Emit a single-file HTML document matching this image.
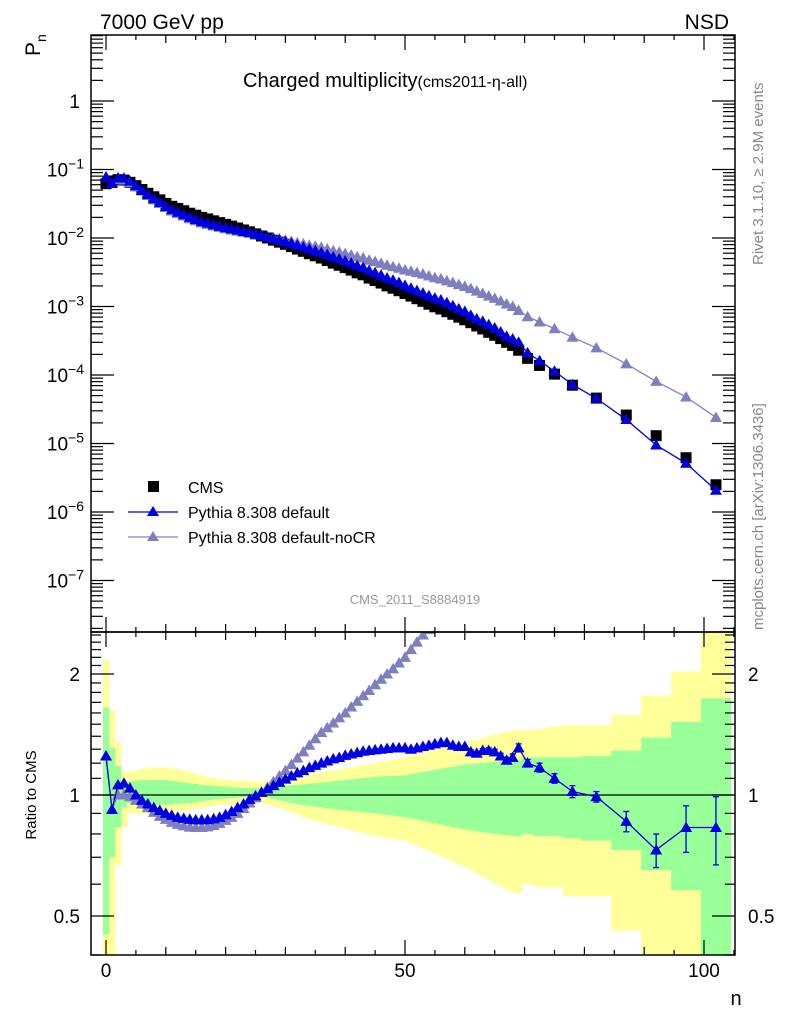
<!DOCTYPE html>
<html><head><meta charset="utf-8"><style>
body{margin:0;background:#fff}
svg text{font-family:"Liberation Sans",sans-serif}
</style></head><body>
<svg id="chart" width="786" height="1024" xmlns="http://www.w3.org/2000/svg">
<g id="bands"></g>
<g id="marks"></g>
<g id="axes"></g>
<text x="100" y="29" font-size="21">7000 GeV pp</text>
<text x="729" y="29" font-size="21" text-anchor="end">NSD</text>
<text transform="translate(40,56) rotate(-90)" font-size="21">P<tspan font-size="14" dy="6">n</tspan></text>
<text x="243" y="87" font-size="20">Charged multiplicity<tspan font-size="16">(cms2011-η-all)</tspan></text>
<text transform="translate(763,265) rotate(-90)" font-size="15" fill="#888">Rivet 3.1.10, ≥ 2.9M events</text>
<text transform="translate(763,630) rotate(-90)" font-size="15" fill="#888">mcplots.cern.ch [arXiv:1306.3436]</text>
<text x="415" y="604" font-size="13" fill="#999" text-anchor="middle">CMS_2011_S8884919</text>
<text transform="translate(36,795) rotate(-90)" font-size="15" text-anchor="middle">Ratio to CMS</text>
<text x="736" y="1005" font-size="20" text-anchor="middle">n</text>
<g>
<rect x="148" y="481" width="11" height="11" fill="#000"/>
<text x="188" y="493" font-size="16">CMS</text>
<line x1="128" y1="512" x2="178" y2="512" stroke="#0000e0" stroke-width="1.3"/>
<polygon points="153,506 159,516 147,516" fill="#0000e0"/>
<text x="188" y="518" font-size="16">Pythia 8.308 default</text>
<line x1="128" y1="537" x2="178" y2="537" stroke="#7f7fbf" stroke-width="1.3"/>
<polygon points="153,531 159,541 147,541" fill="#7f7fbf"/>
<text x="188" y="543" font-size="16">Pythia 8.308 default-noCR</text>
</g>
</svg>
<script>
const nVals=[0,1,2,3,4,5,6,7,8,9,10,11,12,13,14,15,16,17,18,19,20,21,22,23,24,25,26,27,28,29,30,31,32,33,34,35,36,37,38,39,40,41,42,43,44,45,46,47,48,49,50,51,52,53,54,55,56,57,58,59,60,61,62,63,64,65,66,67,68,69,70.5,72.5,75,78,82,87,92,97,102];
const binEdges=[-0.5,0.5,1.5,2.5,3.5,4.5,5.5,6.5,7.5,8.5,9.5,10.5,11.5,12.5,13.5,14.5,15.5,16.5,17.5,18.5,19.5,20.5,21.5,22.5,23.5,24.5,25.5,26.5,27.5,28.5,29.5,30.5,31.5,32.5,33.5,34.5,35.5,36.5,37.5,38.5,39.5,40.5,41.5,42.5,43.5,44.5,45.5,46.5,47.5,48.5,49.5,50.5,51.5,52.5,53.5,54.5,55.5,56.5,57.5,58.5,59.5,60.5,61.5,62.5,63.5,64.5,65.5,66.5,67.5,68.5,69.5,71.5,73.5,76.5,79.5,84.5,89.5,94.5,99.5,104.5];
const cmsP=[0.062,0.068,0.071,0.070,0.065,0.058,0.051,0.045,0.040,0.036,0.032,0.029,0.027,0.025,0.023,0.0215,0.020,0.019,0.0178,0.0168,0.0158,0.0149,0.0140,0.0131,0.0123,0.0115,0.0107,0.0100,0.0093,0.0087,0.0081,0.0075,0.0069,0.0064,0.0059,0.0055,0.0051,0.0047,0.0043,0.0040,0.0037,0.0034,0.0031,0.0029,0.0026,0.0024,0.0022,0.0020,0.00185,0.0017,0.00155,0.00142,0.00130,0.00119,0.00108,0.00099,0.00092,0.00084,0.00077,0.00070,0.00064,0.00058,0.00052,0.00047,0.00042,0.00038,0.00034,0.00030,0.00027,0.00023,0.000175,0.000138,0.000103,0.000071,0.000046,0.000026,0.000013,0.0000062,0.0000025];
const ratioDefault=[1.25,0.92,1.06,1.07,1.04,1.00,0.97,0.95,0.93,0.915,0.90,0.89,0.88,0.875,0.87,0.867,0.867,0.868,0.872,0.88,0.893,0.91,0.93,0.95,0.975,0.995,1.015,1.035,1.055,1.075,1.095,1.115,1.135,1.15,1.17,1.185,1.2,1.215,1.23,1.24,1.255,1.265,1.275,1.285,1.29,1.295,1.30,1.305,1.31,1.31,1.31,1.30,1.31,1.32,1.33,1.34,1.35,1.35,1.33,1.32,1.32,1.28,1.27,1.29,1.29,1.28,1.25,1.22,1.24,1.31,1.2,1.17,1.10,1.02,0.99,0.86,0.73,0.83,0.83];
const errDefault=[0,0,0,0,0,0,0,0,0,0,0,0,0,0,0,0,0,0,0,0,0,0,0,0,0,0,0,0,0,0,0,0,0,0,0,0,0,0,0,0,0,0,0,0,0,0,0,0,0,0,0,0,0,0,0,0,0,0,0,0,0,0.015,0.015,0.015,0.02,0.02,0.02,0.02,0.025,0.03,0.025,0.03,0.03,0.035,0.03,0.05,0.07,0.11,0.16];
const ratioNoCR=[1.25,0.92,1.0,1.0,0.99,0.97,0.95,0.93,0.905,0.885,0.87,0.855,0.845,0.838,0.832,0.83,0.83,0.833,0.84,0.85,0.865,0.88,0.9,0.925,0.955,0.985,1.015,1.045,1.08,1.115,1.15,1.19,1.235,1.28,1.33,1.38,1.43,1.47,1.51,1.555,1.6,1.655,1.71,1.765,1.82,1.88,1.94,2.0,2.06,2.13,2.2,2.3,2.4,2.5,2.58,2.66,2.74,2.82,2.9,2.98,3.06,3.14,3.22,3.3,3.38,3.46,3.54,3.62,3.71,3.8,4.05,4.3,4.6,5.0,5.4,5.6,6.2,7.7,9.6];
const greenUp=[1.65,1.31,1.18,1.08,1.08,1.085,1.09,1.09,1.09,1.09,1.09,1.085,1.08,1.075,1.07,1.065,1.06,1.057,1.054,1.051,1.05,1.045,1.043,1.041,1.04,1.04,1.04,1.042,1.045,1.05,1.053,1.057,1.06,1.063,1.067,1.07,1.074,1.078,1.082,1.086,1.09,1.094,1.098,1.102,1.106,1.11,1.112,1.114,1.116,1.118,1.12,1.127,1.134,1.141,1.148,1.155,1.162,1.169,1.176,1.183,1.19,1.194,1.198,1.202,1.206,1.21,1.213,1.216,1.22,1.22,1.24,1.24,1.24,1.24,1.25,1.29,1.39,1.52,1.74];
const greenDn=[0.45,0.70,0.83,0.93,0.955,0.953,0.951,0.949,0.947,0.945,0.945,0.947,0.95,0.952,0.955,0.96,0.965,0.97,0.974,0.977,0.98,0.984,0.986,0.988,0.99,0.99,0.99,0.985,0.978,0.97,0.963,0.956,0.95,0.945,0.94,0.935,0.931,0.927,0.923,0.919,0.915,0.912,0.909,0.906,0.903,0.90,0.896,0.892,0.888,0.884,0.88,0.874,0.868,0.862,0.856,0.85,0.844,0.838,0.832,0.826,0.82,0.816,0.812,0.808,0.804,0.80,0.797,0.794,0.79,0.79,0.80,0.79,0.79,0.78,0.77,0.73,0.65,0.58,0.3];
const yellowUp=[2.17,1.62,1.35,1.14,1.14,1.15,1.16,1.165,1.17,1.17,1.17,1.165,1.16,1.15,1.14,1.13,1.12,1.11,1.10,1.095,1.09,1.088,1.086,1.084,1.082,1.08,1.08,1.082,1.086,1.09,1.097,1.104,1.111,1.118,1.124,1.13,1.137,1.144,1.151,1.158,1.165,1.172,1.179,1.186,1.193,1.20,1.208,1.216,1.224,1.232,1.24,1.251,1.262,1.273,1.284,1.295,1.306,1.317,1.328,1.339,1.35,1.362,1.374,1.386,1.398,1.41,1.422,1.434,1.446,1.45,1.45,1.46,1.48,1.49,1.49,1.58,1.77,2.03,3];
const yellowDn=[0.3,0.3,0.67,0.83,0.90,0.90,0.90,0.90,0.90,0.90,0.90,0.905,0.91,0.915,0.92,0.925,0.93,0.935,0.94,0.943,0.945,0.948,0.95,0.952,0.954,0.955,0.955,0.948,0.938,0.928,0.918,0.906,0.894,0.882,0.871,0.86,0.853,0.846,0.839,0.832,0.825,0.818,0.811,0.804,0.797,0.79,0.786,0.782,0.778,0.774,0.77,0.759,0.748,0.737,0.726,0.715,0.704,0.693,0.682,0.671,0.66,0.649,0.638,0.627,0.616,0.605,0.594,0.583,0.572,0.57,0.6,0.59,0.59,0.56,0.56,0.46,0.3,0.3,0.3];
const xTicks=[0,50,100];
const topTickExp=[0,-1,-2,-3,-4,-5,-6,-7];
const ratioTicks=[2,1,0.5];

const NS="http://www.w3.org/2000/svg";
const L=91,R=735,T=35,B1=632,B2=955;
const X=n=>106+(n)*5.98;
const YT=p=>101-68.5*Math.log10(p);
const YR=r=>795-402*Math.log10(r);
function mk(tag,attrs,parent){const e=document.createElementNS(NS,tag);for(const k in attrs)e.setAttribute(k,attrs[k]);parent.appendChild(e);return e;}
const bands=document.getElementById('bands'),marks=document.getElementById('marks'),axes=document.getElementById('axes');
const clamp=(v,a,b)=>Math.max(a,Math.min(b,v));
// bands
for(let i=0;i<nVals.length;i++){
  const x0=X(binEdges[i]),x1=X(binEdges[i+1]);
  const y1=clamp(YR(yellowUp[i]),B1,B2),y2=clamp(YR(yellowDn[i]),B1,B2);
  const r=mk('rect',{x:x0,y:y1,width:x1-x0+0.3,height:y2-y1,fill:'#ffff99'},bands);
  
  
}
for(let i=0;i<nVals.length;i++){
  const x0=X(binEdges[i]),x1=X(binEdges[i+1]);
  const y1=clamp(YR(greenUp[i]),B1,B2),y2=clamp(YR(greenDn[i]),B1,B2);
  const r=mk('rect',{x:x0,y:y1,width:x1-x0+0.3,height:y2-y1,fill:'#99ff99'},bands);
  
  
}
mk('line',{x1:L,y1:795,x2:R,y2:795,stroke:'#000','stroke-width':1.2},bands);
// clip paths
const defs=mk('defs',{},document.getElementById('chart'));
const c1=mk('clipPath',{id:'ctop'},defs);mk('rect',{x:L,y:T,width:R-L,height:B1-T},c1);
const c2=mk('clipPath',{id:'cbot'},defs);mk('rect',{x:L,y:B1,width:R-L,height:B2-B1},c2);
const gTop=mk('g',{'clip-path':'url(#ctop)'},marks),gBot=mk('g',{'clip-path':'url(#cbot)'},marks);
function tri(g,x,y,c,name){const p=mk('polygon',{points:`${x},${y-6} ${x+6},${y+4.5} ${x-6},${y+4.5}`,fill:c},g);
  
  }
function series(g,vals,yf,c,name){
  const pts=nVals.map((n,i)=>X(n)+','+yf(vals[i])).join(' ');
  mk('polyline',{points:pts,fill:'none',stroke:c,'stroke-width':1.3},g);
  nVals.forEach((n,i)=>tri(g,X(n),yf(vals[i]),c,name));
}
// top panel
const defP=cmsP.map((p,i)=>p*ratioDefault[i]);
const nocrP=cmsP.map((p,i)=>p*ratioNoCR[i]);
nVals.forEach((n,i)=>{const s=mk('rect',{x:X(n)-5.5,y:YT(cmsP[i])-5.5,width:11,height:11,fill:'#000'},gTop);
  
  });
series(gTop,nocrP,YT,'#7f7fbf','nocr-point');
series(gTop,defP,YT,'#0000e0','default-point');
// ratio panel
series(gBot,ratioNoCR,YR,'#7f7fbf','nocr-ratio-point');
nVals.forEach((n,i)=>{if(errDefault[i]>0){const x=X(n),ya=YR(ratioDefault[i]+errDefault[i]),yb=YR(ratioDefault[i]-errDefault[i]);
  mk('line',{x1:x,y1:ya,x2:x,y2:yb,stroke:'#0000e0','stroke-width':1.3},gBot);
  mk('line',{x1:x-3,y1:ya,x2:x+3,y2:ya,stroke:'#0000e0','stroke-width':1.3},gBot);
  mk('line',{x1:x-3,y1:yb,x2:x+3,y2:yb,stroke:'#0000e0','stroke-width':1.3},gBot);}});
series(gBot,ratioDefault,YR,'#0000e0','default-ratio-point');
// frames
mk('rect',{x:L,y:T,width:R-L,height:B1-T,fill:'none',stroke:'#000','stroke-width':1.5},axes);
mk('rect',{x:L,y:B1,width:R-L,height:B2-B1,fill:'none',stroke:'#000','stroke-width':1.5},axes);
// x ticks
for(let n=0;n<=105;n+=5){const len=n%50===0?15:(n%10===0?8:5);const x=X(n);
  [[T,1],[B1,-1],[B1,1],[B2,-1]].forEach(([y,d])=>mk('line',{x1:x,y1:y,x2:x,y2:y+d*len,stroke:'#000','stroke-width':1.2},axes));}
xTicks.forEach(v=>{const t=mk('text',{x:X(v),y:977,'font-size':19,'text-anchor':'middle'},axes);t.textContent=v;
  
  });
// top y ticks
for(let e=-8;e<=0;e++){for(let m=1;m<=9;m++){const y=YT(m*Math.pow(10,e));if(y<T||y>B1)continue;const len=m===1?23:12;
  mk('line',{x1:L,y1:y,x2:L+len,y2:y,stroke:'#000','stroke-width':1.2},axes);
  mk('line',{x1:R,y1:y,x2:R-len,y2:y,stroke:'#000','stroke-width':1.2},axes);}}
topTickExp.forEach(e=>{const y=YT(Math.pow(10,e))+7;const t=mk('text',{x:e===0?80:84,y:y,'font-size':19,'text-anchor':'end'},axes);
  if(e===0)t.textContent='1';else{t.textContent='10';const s=mk('tspan',{dy:-8,'font-size':14},t);s.textContent='−'+(-e);}
  
  });
// ratio y ticks
[0.4,0.5,0.6,0.7,0.8,0.9,1,1.1,1.2,1.3,1.4,1.5,1.6,1.7,1.8,1.9,2,2.1,2.2,2.3,2.4,2.5].forEach(r=>{const y=YR(r);if(y<B1||y>B2)return;
  const len=(r===0.5||r===1||r===2)?23:10;
  mk('line',{x1:L,y1:y,x2:L+len,y2:y,stroke:'#000','stroke-width':1.2},axes);
  mk('line',{x1:R,y1:y,x2:R-len,y2:y,stroke:'#000','stroke-width':1.2},axes);});
ratioTicks.forEach(r=>{const y=YR(r)+7;
  const t=mk('text',{x:80,y:y,'font-size':19,'text-anchor':'end'},axes);t.textContent=r;
  
  
  const t2=mk('text',{x:748,y:y,'font-size':19},axes);t2.textContent=r;
  
  });
</script>
</body></html>
